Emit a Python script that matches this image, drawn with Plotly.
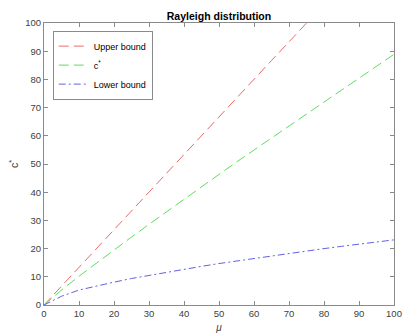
import plotly.graph_objects as go

mu = [0, 5, 10, 15, 20, 25, 30, 35, 40, 45, 50, 55, 60, 65, 70, 75, 80, 85, 90, 95, 100]
upper = [0, 6.7, 13.3, 20.0, 26.7, 33.3, 40.0, 46.7, 53.3, 60.0, 66.7, 73.3, 80.0, 86.7, 93.3, 100.0, 106.7, 113.3, 120.0, 126.7, 133.3]
c_star = [0, 5.3, 10.2, 14.9, 19.6, 24.1, 28.6, 33.1, 37.5, 41.9, 46.3, 50.7, 55.0, 59.3, 63.5, 67.8, 72.0, 76.2, 80.4, 84.6, 88.9]
lower = [0, 3.1, 5.3, 6.8, 8.1, 9.4, 10.5, 11.7, 12.7, 13.7, 14.7, 15.6, 16.6, 17.4, 18.3, 19.1, 20.0, 20.8, 21.6, 22.3, 23.1]

x_ticks = [0, 10, 20, 30, 40, 50, 60, 70, 80, 90, 100]
y_ticks = [0, 10, 20, 30, 40, 50, 60, 70, 80, 90, 100]

FONT = "Liberation Sans, Arial, sans-serif"
AX = "#8a8a8a"

fig = go.Figure()
fig.add_trace(go.Scatter(x=mu, y=upper, mode="lines", name="Upper bound",
                         line=dict(color="#ec6a6a", width=1, dash="10px,5px")))
fig.add_trace(go.Scatter(x=mu, y=c_star, mode="lines", name="c<sup>*</sup>",
                         line=dict(color="#5ede5e", width=1, dash="10px,5px")))
fig.add_trace(go.Scatter(x=mu, y=lower, mode="lines", name="Lower bound",
                         line=dict(color="#6262e0", width=1, dash="7px,3px,2px,3px")))

axis_common = dict(showgrid=False, zeroline=False, showline=True, linecolor=AX, linewidth=1,
                   mirror="ticks", ticks="inside", ticklen=4, tickcolor=AX, tickwidth=1,
                   ticklabeloverflow="allow",
                   tickfont=dict(family=FONT, size=9.5, color="#404040"))

fig.update_layout(
    width=406, height=335,
    margin=dict(l=44, r=4, t=23, b=29),
    paper_bgcolor="white", plot_bgcolor="white",
    title=dict(text="<b>Rayleigh distribution</b>", x=0.5, xref="paper", xanchor="center",
               y=1 - 16 / 335, yanchor="middle",
               font=dict(family=FONT, size=10.5, color="black")),
    xaxis=dict(range=[0, 100], tickvals=x_ticks,
               title=dict(text="<i>μ</i>", font=dict(family=FONT, size=10, color="#404040"), standoff=5),
               **axis_common),
    yaxis=dict(range=[0, 100], tickvals=y_ticks,
               title=dict(text="c<sup>*</sup>", font=dict(family=FONT, size=10.5, color="#404040"), standoff=4),
               **axis_common),
    legend=dict(x=0.025, y=0.973, xanchor="left", yanchor="top",
                bgcolor="white", bordercolor=AX, borderwidth=1,
                font=dict(family=FONT, size=9, color="black"),
                tracegroupgap=0, itemwidth=30),
    showlegend=True,
)

fig.write_html("out.html")
